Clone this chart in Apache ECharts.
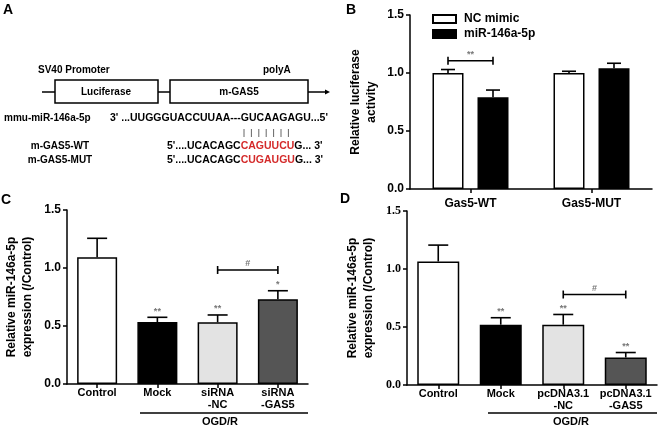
<!DOCTYPE html>
<html>
<head>
<meta charset="utf-8">
<script src="https://cdn.jsdelivr.net/npm/echarts@6/dist/echarts.min.js"></script>
<style>html,body{margin:0;padding:0;background:#fff}#c{width:658px;height:428px}</style>
</head>
<body>
<div id="c"></div>
<script>
// ---------- data ----------
const bCategories = ['Gas5-WT', 'Gas5-MUT'];
const bSeriesNames = ['NC mimic', 'miR-146a-5p'];
const bNcMimic = [1.00, 1.00];
const bNcMimicErr = [0.030, 0.015];
const bMir = [0.79, 1.04];
const bMirErr = [0.063, 0.044];
const bBracket = [[0, 0, 1.105, '**']];

const cCategories = ['Control', 'Mock', 'siRNA\n-NC', 'siRNA\n-GAS5'];
const cValues = [1.092, 0.534, 0.532, 0.730];
const cErr = [0.164, 0.041, 0.063, 0.074];
const cStars = ['', '**', '**', '*'];
const cBracket = [[2, 3, 0.983, '#']];

const dCategories = ['Control', 'Mock', 'pcDNA3.1\n-NC', 'pcDNA3.1\n-GAS5'];
const dValues = [1.065, 0.520, 0.520, 0.237];
const dErr = [0.141, 0.060, 0.088, 0.043];
const dStars = ['', '**', '**', '**'];
const dBracket = [[2, 3, 0.780, '#']];

const yTicks = [0, 0.5, 1.0, 1.5];
const barColors = ['#ffffff', '#000000', '#e3e3e3', '#555555'];

// ---------- styles ----------
const F = '"Liberation Sans", Arial, sans-serif';
const FS = '"Liberation Serif", "Times New Roman", serif';
const B_BAR_W = 31, B_GAP = 14;
const bOff = (B_BAR_W + B_GAP) / 2;

function yAx(gi, name, gap, serif) {
  return {
    type: 'value', gridIndex: gi, min: yTicks[0], max: yTicks[yTicks.length - 1], interval: yTicks[1] - yTicks[0],
    axisLine: {show: true, lineStyle: {color: '#000', width: 1.5}},
    axisTick: {show: true, length: 4, lineStyle: {color: '#000', width: 1.5}},
    splitLine: {show: false},
    axisLabel: {margin: 6, color: '#000', fontWeight: 'bold', fontSize: 12, fontFamily: serif ? FS : F,
      formatter: v => v.toFixed(1)},
    name: name, nameLocation: 'middle', nameRotate: 90, nameGap: gap,
    nameTextStyle: {color: '#000', fontWeight: 'bold', fontSize: 12, fontFamily: F, lineHeight: 16}
  };
}
function xAx(gi, data, fs, margin, lh) {
  return {
    type: 'category', gridIndex: gi, data: data,
    axisLine: {show: true, lineStyle: {color: '#000', width: 1.5}},
    axisTick: {show: true, alignWithLabel: true, length: 4, lineStyle: {color: '#000', width: 1.5}},
    axisLabel: {margin: margin, color: '#000', fontWeight: 'bold', fontSize: fs, fontFamily: F, lineHeight: lh, interval: 0}
  };
}
function errSeries(gi, vals, errs, offset, capHalf) {
  return {
    type: 'custom', xAxisIndex: gi, yAxisIndex: gi, z: 5, silent: true,
    data: vals.map((v, i) => [i, v, errs[i]]),
    renderItem: function (params, api) {
      const x = api.value(0), v = api.value(1), e = api.value(2);
      const p0 = api.coord([x, v]), p1 = api.coord([x, v + e]);
      const cx = p0[0] + offset;
      const st = {stroke: '#000', lineWidth: 1.6};
      return {type: 'group', children: [
        {type: 'line', shape: {x1: cx, y1: p0[1], x2: cx, y2: p1[1]}, style: st},
        {type: 'line', shape: {x1: cx - capHalf, y1: p1[1], x2: cx + capHalf, y2: p1[1]}, style: st}
      ]};
    }
  };
}
function starSeries(gi, vals, errs, stars, offset) {
  return {
    type: 'custom', xAxisIndex: gi, yAxisIndex: gi, z: 6, silent: true,
    data: vals.map((v, i) => [i, v + errs[i]]),
    renderItem: function (params, api) {
      const s = stars[params.dataIndex];
      if (!s) return null;
      const p = api.coord([api.value(0), api.value(1)]);
      return {type: 'text', style: {text: s, x: p[0] + offset, y: p[1] - 6, align: 'center', verticalAlign: 'middle',
        fill: '#777', font: 'bold 9px ' + F}};
    }
  };
}
function bracketSeries(gi, data, offA, offB) {
  return {
    type: 'custom', xAxisIndex: gi, yAxisIndex: gi, z: 6, silent: true,
    data: data,
    renderItem: function (params, api) {
      const a = api.coord([api.value(0), api.value(2)]);
      const b = api.coord([api.value(1), api.value(2)]);
      const x1 = a[0] + offA, x2 = b[0] + offB, y = a[1];
      const st = {stroke: '#000', lineWidth: 1.6};
      const label = data[params.dataIndex][3];
      return {type: 'group', children: [
        {type: 'line', shape: {x1: x1, y1: y, x2: x2, y2: y}, style: st},
        {type: 'line', shape: {x1: x1, y1: y - 4, x2: x1, y2: y + 4}, style: st},
        {type: 'line', shape: {x1: x2, y1: y - 4, x2: x2, y2: y + 4}, style: st},
        {type: 'text', style: {text: label, x: (x1 + x2) / 2, y: y - 6, align: 'center', verticalAlign: 'middle',
          fill: '#777', font: 'bold 9px ' + F}}
      ]};
    }
  };
}

const barStyle = c => ({color: c, borderColor: '#000', borderWidth: 1.5});

// ---------- panel A schematic & annotations ----------
const T = (text, x, y, opt) => Object.assign({type: 'text', style: Object.assign({text: text, x: x, y: y,
  font: 'bold 10px ' + F, fill: '#000', verticalAlign: 'middle'}, opt || {})});
const L = (x1, y1, x2, y2, w, c) => ({type: 'line', shape: {x1, y1, x2, y2}, style: {stroke: c || '#000', lineWidth: w || 1.5}});

const pairBars = [];
for (let i = 0; i < 7; i++) pairBars.push(L(244 + i * 7.4, 129, 244 + i * 7.4, 137, 1, '#666'));

const SEQ = 'bold 10.5px ' + F;
const rich = {b: {font: SEQ, fill: '#000'}, r: {font: SEQ, fill: '#d42a2a'}};

const graphics = [
  T('A', 3, 10, {font: 'bold 14px ' + F}),
  T('B', 346, 10, {font: 'bold 14px ' + F}),
  T('C', 1, 200, {font: 'bold 14px ' + F}),
  T('D', 340, 199, {font: 'bold 14px ' + F}),
  T('SV40 Promoter', 38, 70),
  T('polyA', 263, 70),
  L(42, 92, 55, 92),
  {type: 'rect', shape: {x: 55, y: 80, width: 103, height: 23}, style: {fill: '#fff', stroke: '#000', lineWidth: 1.5}},
  L(158, 92, 170, 92),
  {type: 'rect', shape: {x: 170, y: 80, width: 138, height: 23}, style: {fill: '#fff', stroke: '#000', lineWidth: 1.5}},
  L(308, 92, 326, 92),
  {type: 'polygon', shape: {points: [[325, 89.5], [330, 92], [325, 94.5]]}, style: {fill: '#000'}},
  T('Luciferase', 106, 92, {align: 'center'}),
  T('m-GAS5', 239, 92, {align: 'center'}),
  T('mmu-miR-146a-5p', 4, 118),
  T("3' ...UUGGGUACCUUAA---GUCAAGAGU...5'", 110, 118, {font: SEQ}),
  ...pairBars,
  T('m-GAS5-WT', 60, 146, {align: 'center'}),
  T('m-GAS5-MUT', 60, 160, {align: 'center'}),
  {type: 'text', style: {text: "{b|5'....UCACAGC}{r|CAGUUCU}{b|G... 3'}", x: 167, y: 146, verticalAlign: 'middle', rich: rich}},
  {type: 'text', style: {text: "{b|5'....UCACAGC}{r|CUGAUGU}{b|G... 3'}", x: 167, y: 160, verticalAlign: 'middle', rich: rich}},
  // OGD/R group lines
  L(140, 413, 308, 413),
  T('OGD/R', 220, 422, {align: 'center', font: 'bold 11px ' + F}),
  L(488, 413, 657, 413),
  T('OGD/R', 571, 422, {align: 'center', font: 'bold 11px ' + F})
];

const option = {
  animation: false,
  backgroundColor: '#fff',
  textStyle: {fontFamily: F},
  grid: [
    {left: 410, top: 15, width: 242, height: 174},
    {left: 67, top: 210, width: 241, height: 174},
    {left: 407, top: 211, width: 250, height: 174}
  ],
  legend: {
    left: 432, top: 12, orient: 'vertical', itemWidth: 23, itemHeight: 8, itemGap: 1, padding: 0,
    icon: 'rect', data: bSeriesNames,
    textStyle: {fontWeight: 'bold', fontSize: 12, color: '#000', fontFamily: F, lineHeight: 14, padding: [0, 0, 0, 3]}
  },
  xAxis: [xAx(0, bCategories, 12, 8, 14), xAx(1, cCategories, 11, 3, 12), xAx(2, dCategories, 11, 3, 12)],
  yAxis: [
    yAx(0, 'Relative luciferase\nactivity', 30, false),
    yAx(1, 'Relative miR-146a-5p\nexpression (/Control)', 31, false),
    yAx(2, 'Relative miR-146a-5p\nexpression (/Control)', 30, true)
  ],
  series: [
    {name: bSeriesNames[0], type: 'bar', xAxisIndex: 0, yAxisIndex: 0, data: bNcMimic, barWidth: B_BAR_W,
      barGap: (B_GAP / B_BAR_W * 100) + '%', itemStyle: barStyle('#ffffff')},
    {name: bSeriesNames[1], type: 'bar', xAxisIndex: 0, yAxisIndex: 0, data: bMir, barWidth: B_BAR_W,
      barGap: (B_GAP / B_BAR_W * 100) + '%', itemStyle: barStyle('#000000')},
    errSeries(0, bNcMimic, bNcMimicErr, -bOff, 7),
    errSeries(0, bMir, bMirErr, bOff, 7),
    bracketSeries(0, bBracket, -bOff, bOff),

    {type: 'bar', xAxisIndex: 1, yAxisIndex: 1, barWidth: 40,
      data: cValues.map((v, i) => ({value: v, itemStyle: barStyle(barColors[i])}))},
    errSeries(1, cValues, cErr, 0, 10),
    starSeries(1, cValues, cErr, cStars, 0),
    bracketSeries(1, cBracket, 0, 0),

    {type: 'bar', xAxisIndex: 2, yAxisIndex: 2, barWidth: 42,
      data: dValues.map((v, i) => ({value: v, itemStyle: barStyle(barColors[i])}))},
    errSeries(2, dValues, dErr, 0, 10),
    starSeries(2, dValues, dErr, dStars, 0),
    bracketSeries(2, dBracket, 0, 0)
  ],
  graphic: graphics
};

const chart = echarts.init(document.getElementById('c'), null, {renderer: 'canvas'});
chart.setOption(option);
</script>
</body>
</html>
